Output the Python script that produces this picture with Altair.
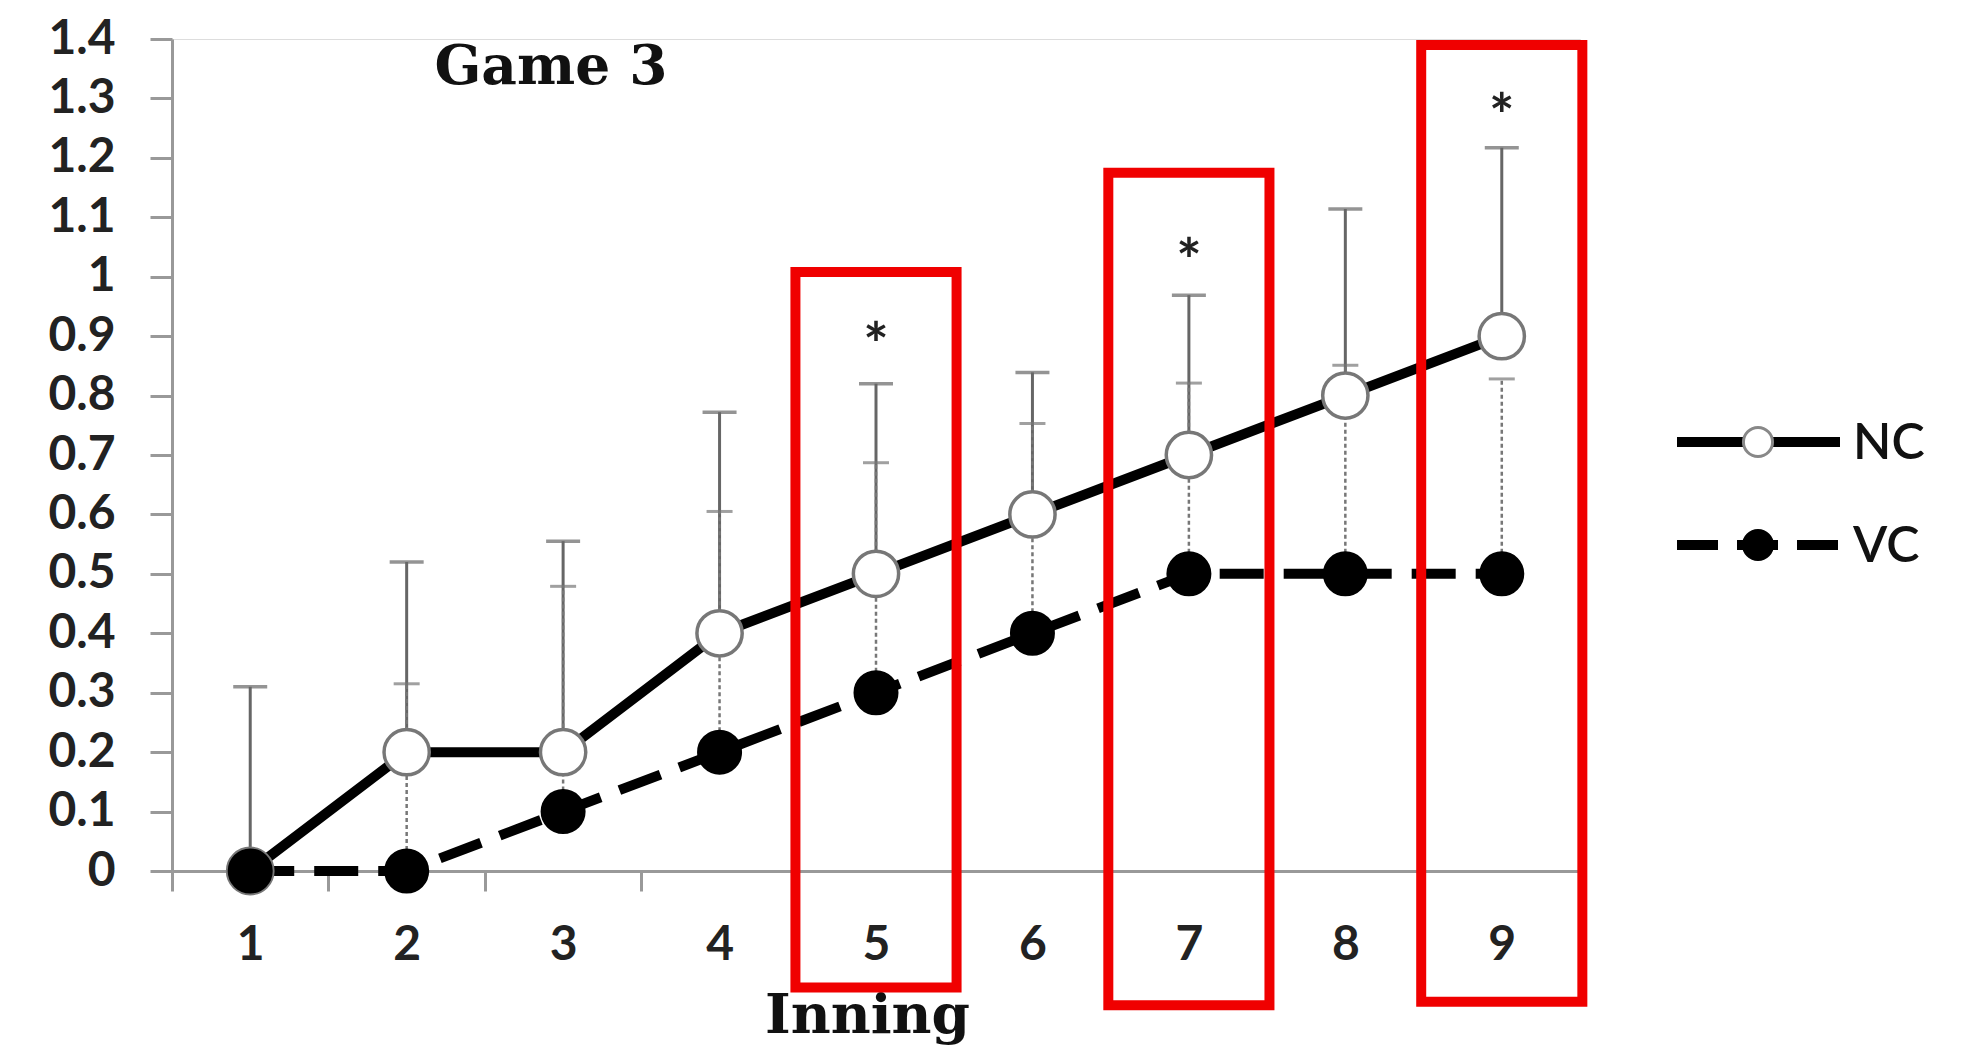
import altair as alt
import pandas as pd

# ---- data ----
innings = [1, 2, 3, 4, 5, 6, 7, 8, 9]
nc_mean = [0.0, 0.2, 0.2, 0.4, 0.5, 0.6, 0.7, 0.8, 0.9]
vc_mean = [0.0, 0.0, 0.1, 0.2, 0.3, 0.4, 0.5, 0.5, 0.5]
nc_upper = [0.31, 0.52, 0.555, 0.772, 0.82, 0.839, 0.969, 1.114, 1.217]
vc_err_innings = [2, 3, 4, 5, 6, 7, 8, 9]
vc_err_base = [0.0, 0.1, 0.2, 0.3, 0.4, 0.5, 0.5, 0.5]
vc_upper = [0.315, 0.479, 0.605, 0.687, 0.753, 0.821, 0.851, 0.828]
sig_innings = [5, 7, 9]
sig_marker_y = [0.91, 1.051, 1.295]
box_top = [1.008, 1.175, 1.39]
box_bottom = [-0.196, -0.226, -0.22]
y_ticks = [round(i * 0.1, 1) for i in range(15)]
series_names = ["NC", "VC"]
title_text = "Game 3"
x_title = "Inning"

W, H = 1408, 832

nc_df = pd.DataFrame({"inning": innings, "y": nc_mean, "y2": nc_upper})
vc_df = pd.DataFrame({"inning": innings, "y": vc_mean})
vc_err_df = pd.DataFrame({"inning": vc_err_innings, "y": vc_err_base, "y2": vc_upper})
sig_df = pd.DataFrame({"inning": sig_innings, "y": sig_marker_y})
box_df = pd.DataFrame({"inning": sig_innings, "y": box_top, "y2": box_bottom})
one_df = pd.DataFrame({"k": [0]})

LABEL_FONT = "Lato"
SERIF = "DejaVu Serif"

x_enc = alt.X(
    "inning:O",
    scale=alt.Scale(type="band", domain=innings, paddingInner=0, paddingOuter=0),
    axis=alt.Axis(
        title=x_title, labelAngle=0, labelFont=LABEL_FONT, labelFontSize=48,
        labelFontWeight="bold", labelColor="#222", labelPadding=30,
        tickBand="extent", tickSize=20, tickColor="#999", tickWidth=3,
        domainColor="#999", domainWidth=3, grid=False, titleFont=SERIF,
        titleFontWeight="bold", titleFontSize=55, titleColor="#111",
        titleX=695, titleY=161, titleBaseline="alphabetic", titleAlign="center",
    ),
)
y_scale = alt.Scale(domain=[0, 1.4], nice=False, zero=False)
y_axis = alt.Axis(
    values=y_ticks, format="~g", labelFont=LABEL_FONT, labelFontSize=48,
    labelFontWeight="bold", labelColor="#222", labelPadding=35, tickSize=22,
    tickColor="#999", tickWidth=3, domainColor="#999", domainWidth=3, grid=False,
)

def Y(field="y"):
    return alt.Y(f"{field}:Q", scale=y_scale, axis=y_axis, title=None)

nc_err = alt.Chart(nc_df).mark_rule(color="#666", strokeWidth=3).encode(
    x=x_enc, y=Y(), y2="y2:Q")
nc_cap = alt.Chart(nc_df).mark_tick(color="#666", thickness=3.5, size=34).encode(
    x=x_enc, y=Y("y2"))
vc_err = alt.Chart(vc_err_df).mark_rule(color="#777", strokeWidth=2.5, strokeDash=[4, 3]).encode(
    x=x_enc, y=Y(), y2="y2:Q")
vc_cap = alt.Chart(vc_err_df).mark_tick(color="#777", thickness=3, size=26).encode(
    x=x_enc, y=Y("y2"))

vc_line = alt.Chart(vc_df).mark_line(color="black", strokeWidth=10, strokeDash=[44, 20]).encode(
    x=x_enc, y=Y())
nc_line = alt.Chart(nc_df).mark_line(color="black", strokeWidth=10).encode(
    x=x_enc, y=Y())

nc_pts = alt.Chart(nc_df).mark_point(shape="circle", filled=True, fill="white",
                                     stroke="#777", strokeWidth=3.5, size=2050, opacity=1).encode(
    x=x_enc, y=Y())
vc_pts = alt.Chart(vc_df).mark_point(shape="circle", filled=True, fill="black",
                                     stroke="black", strokeWidth=2, size=1850, opacity=1).encode(
    x=x_enc, y=Y())

stars = alt.Chart(sig_df).mark_text(text="*", font=LABEL_FONT, fontSize=60, fontWeight="bold",
                                    color="#222", baseline="alphabetic", dy=36).encode(x=x_enc, y=Y())

boxes = alt.Chart(box_df).mark_bar(fillOpacity=0, stroke="#f00000", strokeWidth=10,
                                   width=alt.RelativeBandSize(1.03)).encode(
    x=x_enc, y=Y(), y2="y2:Q")

title = alt.Chart(one_df).mark_text(text=title_text, font=SERIF, fontWeight="bold",
                                    fontSize=55, color="#111", align="center",
                                    baseline="middle").encode(x=alt.value(379), y=alt.value(28))

# ---- legend ----
leg_y = [403, 506]
leg = []
for name, ly in zip(series_names, leg_y):
    dash = [1, 0] if name == "NC" else [41, 19]
    leg.append(alt.Chart(one_df).mark_rule(color="black", strokeWidth=10, strokeDash=dash).encode(
        x=alt.value(1505), x2=alt.value(1668), y=alt.value(ly)))
    if name == "NC":
        leg.append(alt.Chart(one_df).mark_point(shape="circle", filled=True, fill="white",
                                                stroke="#888", strokeWidth=3, size=850, opacity=1).encode(
            x=alt.value(1586), y=alt.value(ly)))
    else:
        leg.append(alt.Chart(one_df).mark_point(shape="circle", filled=True, fill="black",
                                                stroke="black", size=900, opacity=1).encode(
            x=alt.value(1586), y=alt.value(ly)))
    leg.append(alt.Chart(one_df).mark_text(text=name, font=LABEL_FONT, fontSize=50, fontWeight=600,
                                           color="#111", align="left", baseline="middle").encode(
        x=alt.value(1681), y=alt.value(ly + 2)))

chart = alt.layer(
    nc_err, vc_err, nc_cap, vc_cap, vc_line, nc_line, nc_pts, vc_pts, stars, boxes, title, *leg
).properties(
    width=W, height=H,
    autosize=alt.AutoSizeParams(type="none"),
    padding={"left": 164, "top": 31, "right": 370, "bottom": 178},
).configure_view(strokeWidth=0).configure(background="white")

chart.save("out.html", embed_options={"renderer": "svg", "actions": False})
